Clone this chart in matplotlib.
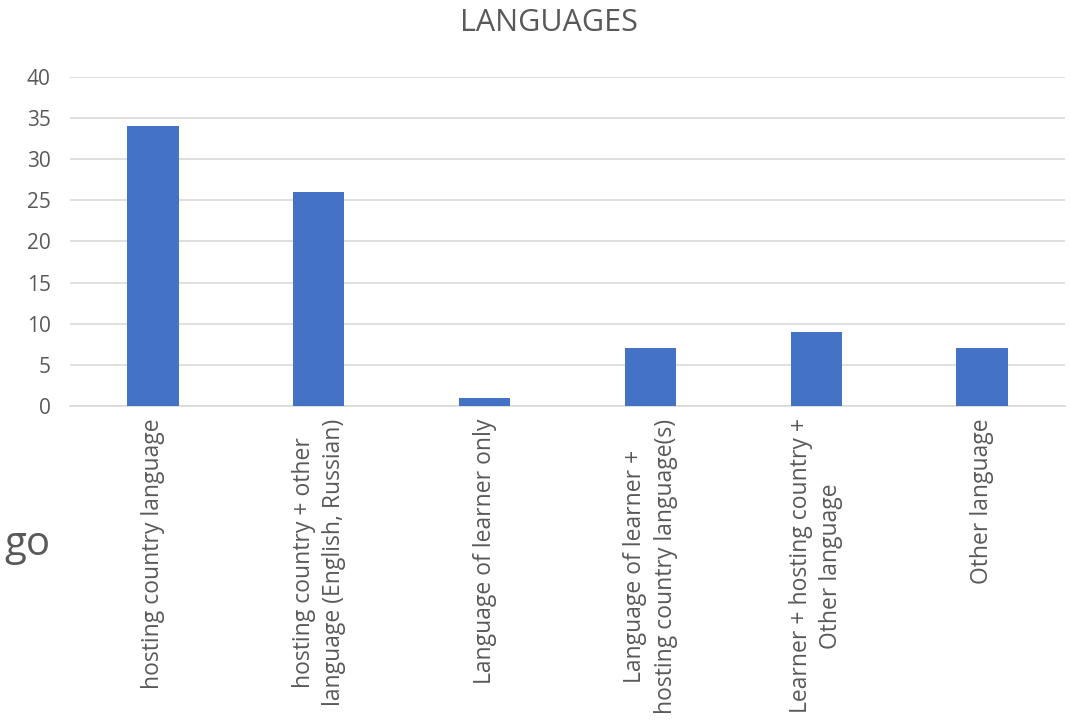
import matplotlib
matplotlib.use('Agg')
import matplotlib.pyplot as plt

categories = [
    'hosting country language',
    'hosting country + other\nlanguage (English, Russian)',
    'Language of learner only',
    'Language of learner +\nhosting country language(s)',
    'Learner + hosting country +\nOther language',
    'Other language',
]
counts = [34, 26, 1, 7, 9, 7]
yticks = [0, 5, 10, 15, 20, 25, 30, 35, 40]

plt.rcParams['font.family'] = ['Open Sans', 'DejaVu Sans']
txt = '#595959'

fig = plt.figure(figsize=(10.71, 7.26), dpi=100)
ax = fig.add_axes([0.0654, 0.4408, 0.929, 0.4532])

x = range(len(categories))
ax.bar(x, counts, width=0.31, color='#4472C4', zorder=3)

ax.set_xlim(-0.5, len(categories) - 0.5)
ax.set_ylim(0, 40)
ax.set_yticks(yticks)
ax.set_xticks(list(x))
ax.set_xticklabels(categories, rotation=90, ha='center', va='top',
                   multialignment='center', linespacing=1.35,
                   fontsize=16.5, color=txt)
ax.tick_params(axis='y', labelsize=15, labelcolor=txt, length=0, pad=14)
ax.tick_params(axis='x', length=0, pad=9)
ax.grid(axis='y', color='#D9D9D9', linewidth=1.2, zorder=0)
for s in ['top', 'right', 'left']:
    ax.spines[s].set_visible(False)
ax.spines['bottom'].set_color('#D9D9D9')
ax.spines['bottom'].set_linewidth(1.2)

fig.text(0.513, 0.968, 'LANGUAGES', ha='center', va='center', fontsize=22, color=txt)
fig.text(0.004, 0.25, 'go', ha='left', va='center', fontsize=29, color=txt)

fig.savefig('out.png', dpi=100)
